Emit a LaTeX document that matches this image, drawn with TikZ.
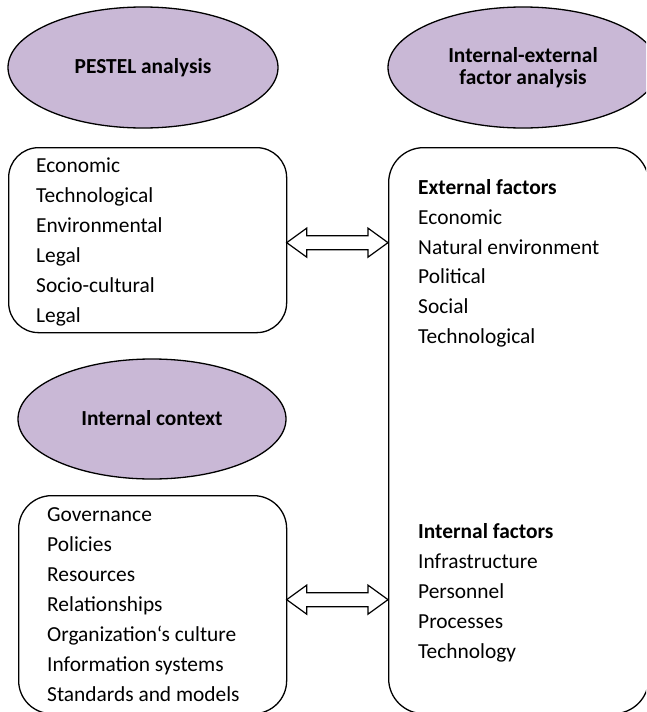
\documentclass[tikz,border=0pt]{standalone}
\usepackage{fontspec}
\setmainfont{Carlito}
\usetikzlibrary{shapes.geometric,calc}
\definecolor{lilac}{RGB}{201,184,214}
\begin{document}
\begin{tikzpicture}[x=1pt,y=-1pt,
  oval/.style={ellipse, draw, fill=lilac, line width=1.3pt, inner sep=0pt,
    font=\fontsize{21.4}{21.5}\selectfont\bfseries, align=center},
  panel/.style={draw, rounded corners=#1, line width=1.3pt, inner sep=0pt, anchor=north west},
  item/.style={anchor=base west, inner sep=0pt, font=\fontsize{21.4}{24}\selectfont},
  head/.style={item, font=\fontsize{21.4}{24}\selectfont\bfseries},
  twoway/.style={draw, fill=white, line width=1.2pt, line join=miter}]
\useasboundingbox (0,0) rectangle (646,712);
\clip (0,0) rectangle (646,712);

% title ovals
\node[oval, minimum width=270, minimum height=121] (pestel) at (143,67.5) {PESTEL analysis};
\node[oval, minimum width=270, minimum height=121] (ief) at (523,67.5) {Internal-external\\factor analysis};
\node[oval, minimum width=268, minimum height=120] (ctx) at (152,419) {\raisebox{2pt}{Internal context}};

% panels
\node[panel=30, minimum width=278, minimum height=185] (pestbox) at (8,147) {};
\node[panel=35, minimum width=260, minimum height=566] (factbox) at (388,147) {};
\node[panel=33, minimum width=268, minimum height=218] (ctxbox) at (18,495) {};

% PESTEL factors
\foreach \t [count=\i from 0] in {Economic,Technological,Environmental,Legal,Socio-cultural,Legal}
  \node[item] (pest-\i) at (36,{172+30*\i}) {\t};

% external factors
\node[head] (exthead) at (418,194.5) {External factors};
\foreach \t [count=\i from 1] in {Economic,Natural environment,Political,Social,Technological}
  \node[item] (ext-\i) at (418,{194.5+29.8*\i}) {\t};

% internal factors
\node[head] (inthead) at (418,538.5) {Internal factors};
\foreach \t [count=\i from 1] in {Infrastructure,Personnel,Processes,Technology}
  \node[item] (int-\i) at (418,{538.5+30*\i}) {\t};

% internal context items
\foreach \t [count=\i from 0] in {Governance,Policies,Resources,Relationships,Organization‘s culture,Information systems,Standards and models}
  \node[item] (ctx-\i) at (47,{521.5+30*\i}) {\t};

% two-way block arrows
\coordinate (a1l) at ($(pestbox.east)+(-0.6,2.5)$);
\coordinate (a1r) at (a1l -| factbox.west);
\coordinate (a2l) at ($(ctxbox.east)+(-0.6,-5)$);
\coordinate (a2r) at (a2l -| factbox.west);
\foreach \l/\r in {a1l/a1r, a2l/a2r}
  \draw[twoway] (\l) -- ($(\l)+(20,-14.5)$) -- ($(\l)+(20,-7)$) -- ($(\r)+(-20,-7)$)
    -- ($(\r)+(-20,-14.5)$) -- (\r) -- ($(\r)+(-20,14.5)$) -- ($(\r)+(-20,7)$)
    -- ($(\l)+(20,7)$) -- ($(\l)+(20,14.5)$) -- cycle;
\end{tikzpicture}
\end{document}
